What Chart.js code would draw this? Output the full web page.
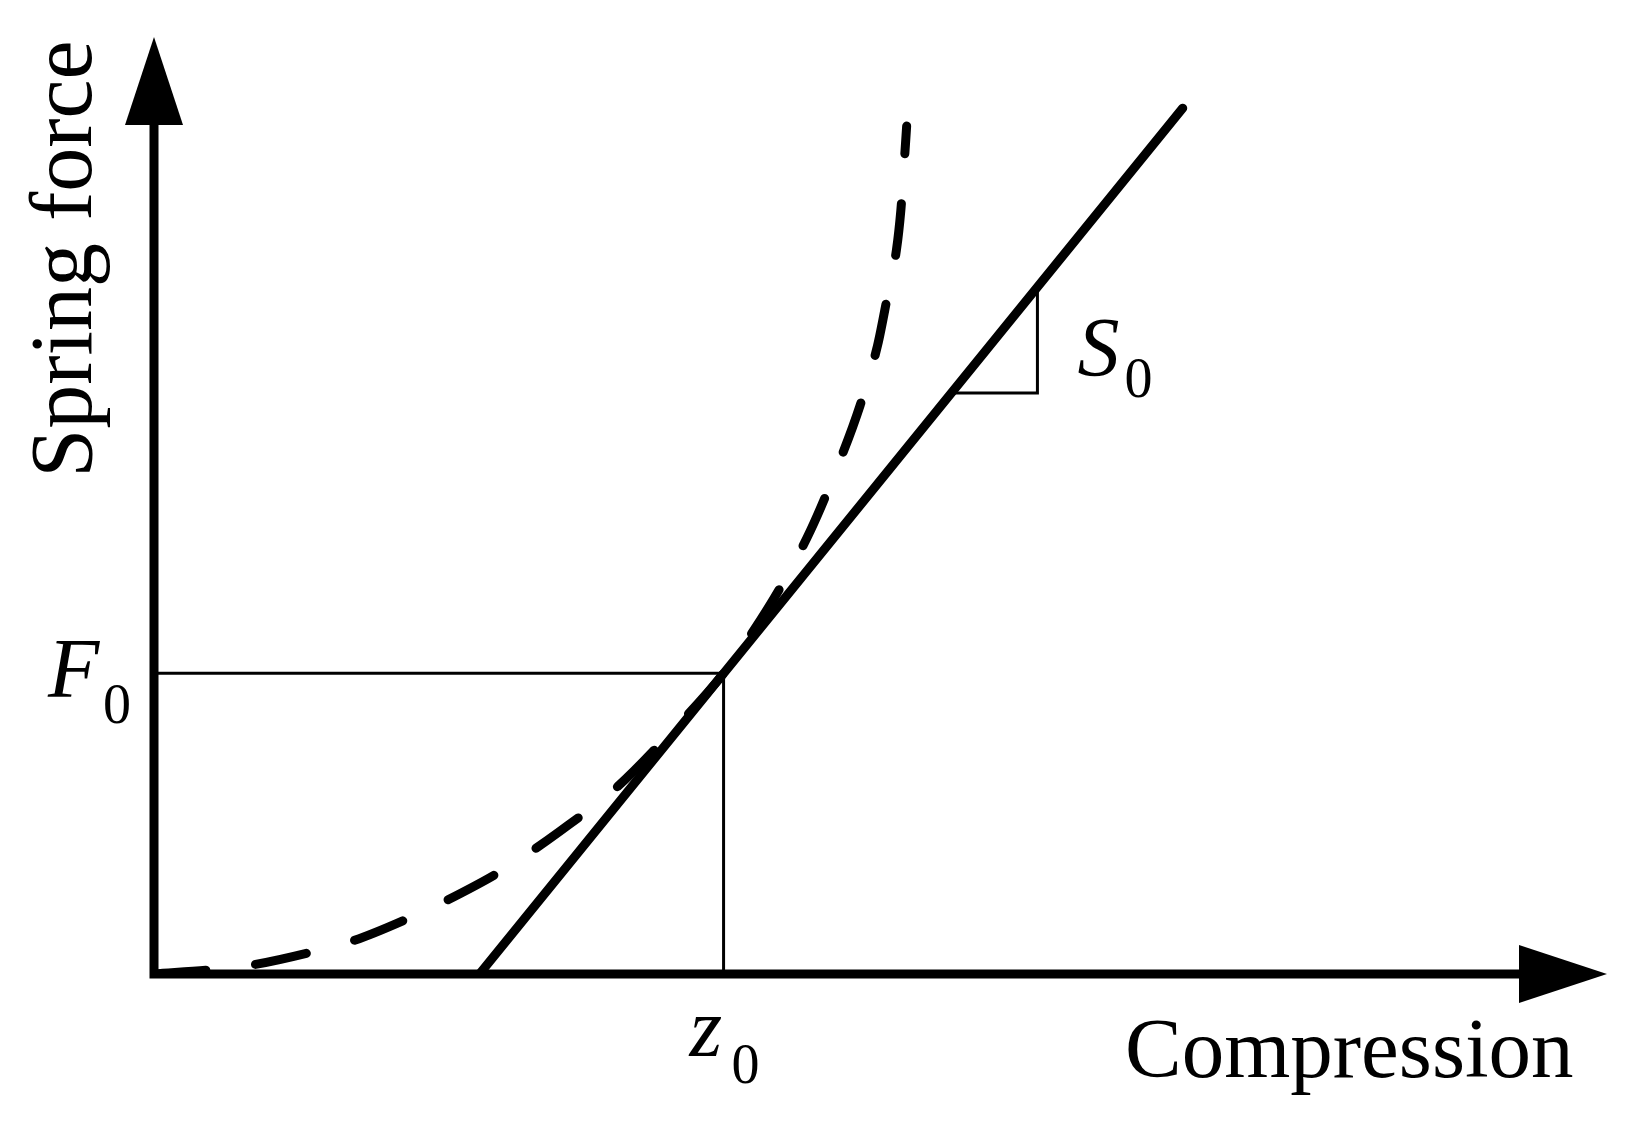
<!DOCTYPE html>
<html>
<head>
<meta charset="utf-8">
<script src="https://cdn.jsdelivr.net/npm/chart.js@4"></script>
<style>
  html, body { margin: 0; padding: 0; background: #fff; }
  #wrap { width: 1640px; height: 1124px; }
</style>
</head>
<body>
<div id="wrap"><canvas id="springChart"></canvas></div>
<script>
// axis ranges (arbitrary units, schematic figure)
const xRange = [0, 10];
const yRange = [0, 10];

// nonlinear spring force curve (dashed)
const curveX = [0, 0.43, 0.69, 1.10, 1.38, 1.76, 2.02, 2.40, 2.79, 3.19, 3.54, 3.92, 4.12, 4.32, 4.52, 4.70, 4.86, 4.98, 5.05, 5.11, 5.14, 5.16, 5.18];
const curveY = [0, 0.05, 0.10, 0.24, 0.36, 0.60, 0.79, 1.11, 1.52, 2.00, 2.55, 3.21, 3.65, 4.15, 4.74, 5.40, 6.07, 6.71, 7.25, 7.73, 8.15, 8.58, 9.05];

// linearised spring (solid)
const lineX = [2.24, 7.08];
const lineY = [0, 9.24];

// operating point
const z0 = 3.92;
const F0 = 3.21;

// slope triangle
const slopeX = [5.51, 6.08, 6.08];
const slopeY = [6.20, 6.20, 7.28];

const serif = '"Liberation Serif", "Times New Roman", serif';

function toPoints(xs, ys) {
    return xs.map((x, i) => ({ x: x, y: ys[i] }));
}

function drawSub(ctx, base, sub, x, y, subDx, subDy) {
    ctx.font = "italic 84px " + serif;
    ctx.fillText(base, x, y);
    ctx.font = "56px " + serif;
    ctx.fillText(sub, x + subDx, y + subDy);
}

const axesPlugin = {
    id: "axesPlugin",
    afterDatasetsDraw(chart) {
        const { ctx, scales } = chart;
        const xs = scales.x;
        const ys = scales.y;
        const ox = xs.getPixelForValue(xRange[0]);
        const oy = ys.getPixelForValue(yRange[0]);
        const tipX = xs.getPixelForValue(xRange[1]);
        const tipY = ys.getPixelForValue(yRange[1]);
        const headLen = 88;
        const headHalf = 29;

        ctx.save();
        ctx.strokeStyle = "#000";
        ctx.fillStyle = "#000";
        ctx.lineWidth = 9;
        ctx.lineJoin = "miter";
        ctx.lineCap = "butt";
        ctx.beginPath();
        ctx.moveTo(ox, tipY + headLen);
        ctx.lineTo(ox, oy);
        ctx.lineTo(tipX - headLen, oy);
        ctx.stroke();

        ctx.beginPath();
        ctx.moveTo(ox, tipY);
        ctx.lineTo(ox - headHalf, tipY + headLen);
        ctx.lineTo(ox + headHalf, tipY + headLen);
        ctx.closePath();
        ctx.fill();

        ctx.beginPath();
        ctx.moveTo(tipX, oy);
        ctx.lineTo(tipX - headLen, oy - headHalf);
        ctx.lineTo(tipX - headLen, oy + headHalf);
        ctx.closePath();
        ctx.fill();

        // axis titles
        ctx.textBaseline = "alphabetic";
        ctx.textAlign = "left";
        ctx.font = "85px " + serif;
        ctx.fillText("Compression", 1125, oy + 103);

        ctx.save();
        ctx.translate(ox - 63, ys.getPixelForValue(7.63));
        ctx.rotate(-Math.PI / 2);
        ctx.textAlign = "center";
        ctx.font = "88px " + serif;
        ctx.fillText("Spring force", 0, 0);
        ctx.restore();

        // symbol labels
        const fy = ys.getPixelForValue(F0);
        const zx = xs.getPixelForValue(z0);
        drawSub(ctx, "F", "0", ox - 106, fy + 24, 55, 26);
        drawSub(ctx, "z", "0", zx - 34, oy + 82, 42, 27);
        const sx = xs.getPixelForValue(slopeX[1]);
        const sy = ys.getPixelForValue(slopeY[0]);
        drawSub(ctx, "S", "0", sx + 40, sy - 17, 47, 21);
        ctx.restore();
    }
};

new Chart(document.getElementById("springChart"), {
    type: "scatter",
    data: {
        datasets: [
            {
                data: toPoints(curveX, curveY),
                showLine: true,
                borderColor: "#000",
                borderWidth: 9,
                borderDash: [52, 50],
                borderCapStyle: "round",
                cubicInterpolationMode: "monotone",
                pointRadius: 0,
                fill: false,
            },
            {
                data: toPoints(lineX, lineY),
                showLine: true,
                borderColor: "#000",
                borderWidth: 9,
                borderCapStyle: "round",
                pointRadius: 0,
                fill: false,
            },
            {
                data: toPoints([xRange[0], z0, z0], [F0, F0, yRange[0]]),
                showLine: true,
                borderColor: "#000",
                borderWidth: 3,
                pointRadius: 0,
                fill: false,
            },
            {
                data: toPoints(slopeX, slopeY),
                showLine: true,
                borderColor: "#000",
                borderWidth: 3,
                pointRadius: 0,
                fill: false,
            },
        ],
    },
    options: {
        responsive: true,
        maintainAspectRatio: false,
        animation: false,
        layout: { padding: { left: 154, top: 37, right: 33, bottom: 150 } },
        plugins: {
            legend: { display: false },
            tooltip: { enabled: false },
        },
        scales: {
            x: { type: "linear", display: false, min: xRange[0], max: xRange[1] },
            y: { type: "linear", display: false, min: yRange[0], max: yRange[1] },
        },
    },
    plugins: [axesPlugin],
});
</script>
</body>
</html>
